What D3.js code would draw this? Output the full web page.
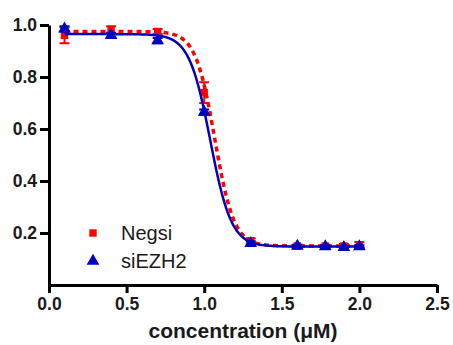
<!DOCTYPE html>
<html>
<head>
<meta charset="utf-8">
<script src="https://cdn.jsdelivr.net/npm/d3@7"></script>
<style>
  body { margin: 0; background: #fff; }
  text { font-family: "Liberation Sans", Arial, sans-serif; }
</style>
</head>
<body>
<div id="mainChart"></div>
<script>
// log concentration values
const concentrations = [0.1, 0.4, 0.7, 1.0, 1.3, 1.6, 1.78, 1.9, 2.0];
const negsiValues = [0.96, 0.98, 0.975, 0.74, 0.17, 0.15, 0.15, 0.15, 0.155];
const negsiErrors = [0.03, 0.015, 0.01, 0.04, 0.01, 0.005, 0.005, 0.008, 0.01];
const siEZH2Values = [0.985, 0.96, 0.94, 0.665, 0.16, 0.15, 0.148, 0.145, 0.148];
const siEZH2Errors = [0.01, 0.01, 0.01, 0.01, 0.008, 0.005, 0.005, 0.005, 0.005];
// fit parameters: top, bottom, logEC50, hill slope
const negsiFit = [0.975, 0.15, 1.068, 7.0];
const siEZH2Fit = [0.965, 0.148, 1.039, 6.4];
const xTicks = [0.0, 0.5, 1.0, 1.5, 2.0, 2.5];
const yTicks = [0.2, 0.4, 0.6, 0.8, 1.0];

const width = 453, height = 345;
const margin = { top: 25, right: 16, bottom: 60, left: 49 };

const svg = d3.select('#mainChart').append('svg')
    .attr('width', width)
    .attr('height', height);

const x = d3.scaleLinear()
    .domain([0, 2.5])
    .range([margin.left, width - margin.right]);

const y = d3.scaleLinear()
    .domain([0, 1.0])
    .range([height - margin.bottom, margin.top]);

const fmt = d3.format('.1f');

// x axis
const xAxis = svg.append('g')
    .attr('transform', `translate(0,${height - margin.bottom})`)
    .call(d3.axisBottom(x).tickValues(xTicks).tickFormat(fmt).tickSize(8).tickSizeOuter(0).tickPadding(5));

// y axis
const yAxis = svg.append('g')
    .attr('transform', `translate(${margin.left},0)`)
    .call(d3.axisLeft(y).tickValues(yTicks).tickFormat(fmt).tickSize(9).tickSizeOuter(0).tickPadding(3));

[xAxis, yAxis].forEach(g => {
    g.select('.domain').attr('stroke', '#000').attr('stroke-width', 3);
    g.selectAll('.tick line').attr('stroke', '#000').attr('stroke-width', 3);
    g.selectAll('.tick text')
        .attr('fill', '#1a1a1a')
        .attr('font-size', 17.5)
        .attr('font-weight', 'bold')
        .attr('font-family', '"Liberation Sans", Arial, sans-serif');
});

svg.append('text')
    .attr('x', 243)
    .attr('y', 338)
    .attr('text-anchor', 'middle')
    .attr('font-size', 21)
    .attr('font-weight', 'bold')
    .attr('fill', '#1a1a1a')
    .text('concentration (μM)');

const fitLine = p => d3.line()
    .x(d => x(d))
    .y(d => y(p[1] + (p[0] - p[1]) / (1 + Math.pow(10, (d - p[2]) * p[3]))));

const xs = d3.range(0.1, 2.0001, 0.01);

const series = [
    { name: 'Negsi', color: '#ff0000', values: negsiValues, errors: negsiErrors, fit: negsiFit, dash: '5,4', shape: d3.symbolSquare, size: 55 },
    { name: 'siEZH2', color: '#0000c0', values: siEZH2Values, errors: siEZH2Errors, fit: siEZH2Fit, dash: null, shape: d3.symbolTriangle, size: 70 },
];

series.forEach(s => {
    const g = svg.append('g');
    g.append('path')
        .datum(xs)
        .attr('fill', 'none')
        .attr('stroke', s.color)
        .attr('stroke-width', s.dash ? 3.5 : 2.5)
        .attr('stroke-dasharray', s.dash)
        .attr('d', fitLine(s.fit));

    const pts = concentrations.map((c, i) => ({ c, v: s.values[i], e: s.errors[i] }));
    g.selectAll('.err')
        .data(pts)
        .join('path')
        .attr('fill', 'none')
        .attr('stroke', s.color)
        .attr('stroke-width', 2)
        .attr('d', d => {
            const x0 = x(d.c), y1 = y(d.v + d.e), y2 = y(d.v - d.e);
            return `M${x0},${y1}V${y2}M${x0 - 5},${y1}H${x0 + 5}M${x0 - 5},${y2}H${x0 + 5}`;
        });
    g.selectAll('.pt')
        .data(pts)
        .join('path')
        .attr('transform', d => `translate(${x(d.c)},${y(d.v)})`)
        .attr('fill', s.color)
        .attr('d', d3.symbol(s.shape, s.size));
});

// legend
series.forEach((s, i) => {
    const ly = 233 + i * 28;
    svg.append('path')
        .attr('transform', `translate(93,${ly})`)
        .attr('fill', s.color)
        .attr('d', d3.symbol(s.shape, s.size));
    svg.append('text')
        .attr('x', 121)
        .attr('y', ly + 7)
        .attr('font-size', 20)
        .attr('fill', '#1a1a1a')
        .text(s.name);
});
</script>
</body>
</html>
